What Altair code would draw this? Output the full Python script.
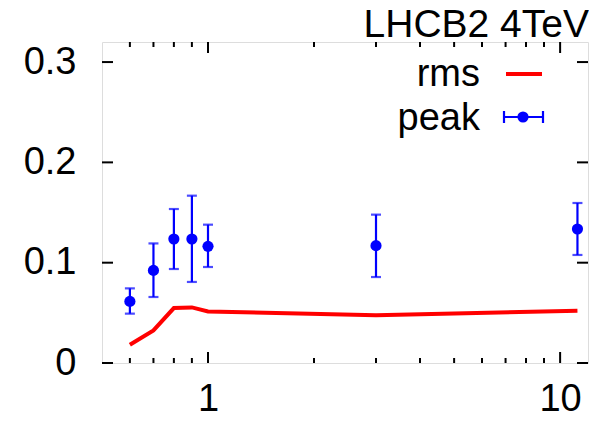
import altair as alt
import pandas as pd

# ---- data ----
peak_x = [0.6, 0.7, 0.8, 0.9, 1.0, 3.0, 11.2]
peak_y = [0.0614, 0.0923, 0.1236, 0.1236, 0.1163, 0.117, 0.1336]
peak_hi = [0.0744, 0.1192, 0.1535, 0.1668, 0.1379, 0.1479, 0.1595]
peak_lo = [0.0492, 0.0658, 0.0937, 0.0808, 0.0957, 0.0857, 0.1077]

rms_x = [0.6, 0.7, 0.8, 0.9, 1.0, 3.0, 11.2]
rms_y = [0.0182, 0.0325, 0.0548, 0.0554, 0.0514, 0.0475, 0.0521]

x_major = [1, 10]
x_minor = [0.6, 0.7, 0.8, 0.9, 2, 3, 4, 5, 6, 7, 8, 9]
y_major = [0.0, 0.1, 0.2, 0.3]

legend_labels = ["rms", "peak"]
title_text = "LHCB2 4TeV"

FONT = "Liberation Sans"
W, H = 486, 321
RED = "#ff0000"
BLUE = "#0000ff"

xscale = alt.Scale(type="log", domain=[0.5, 12], nice=False)
yscale = alt.Scale(domain=[0, 0.32], nice=False, zero=False)

peak = pd.DataFrame({"x": peak_x, "y": peak_y, "lo": peak_lo, "hi": peak_hi})
rms = pd.DataFrame({"x": rms_x, "y": rms_y})
one = pd.DataFrame({"d": [0]})

xaxis = alt.Axis(values=x_major, format="~g", labelFontSize=38, labelFont=FONT,
                 labelColor="black", tickSize=0, domain=False, grid=False,
                 labelPadding=17, title=None, labelFlush=False)
yaxis = alt.Axis(values=y_major, format="~g", labelFontSize=38, labelFont=FONT,
                 labelColor="black", tickSize=0, domain=False, grid=False,
                 labelPadding=26, title=None)

X = alt.X("x:Q", scale=xscale, axis=xaxis)
Y = alt.Y("y:Q", scale=yscale, axis=yaxis)

line = alt.Chart(rms).mark_line(color=RED, strokeWidth=4, clip=True).encode(x=X, y=Y)

bars = alt.Chart(peak).mark_rule(color=BLUE, strokeWidth=2.2).encode(
    x=alt.X("x:Q", scale=xscale), y=alt.Y("lo:Q", scale=yscale), y2="hi:Q")
cap_hi = alt.Chart(peak).mark_tick(color=BLUE, orient="horizontal", size=10, thickness=2.2).encode(
    x=alt.X("x:Q", scale=xscale), y=alt.Y("hi:Q", scale=yscale))
cap_lo = alt.Chart(peak).mark_tick(color=BLUE, orient="horizontal", size=10, thickness=2.2).encode(
    x=alt.X("x:Q", scale=xscale), y=alt.Y("lo:Q", scale=yscale))
pts = alt.Chart(peak).mark_point(color=BLUE, filled=True, shape="circle", size=125, opacity=1).encode(
    x=alt.X("x:Q", scale=xscale), y=alt.Y("y:Q", scale=yscale))

# inward tick marks on all four sides
xmaj = pd.DataFrame({"x": x_major})
xmin = pd.DataFrame({"x": x_minor})
ymaj = pd.DataFrame({"y": y_major})
tk = dict(color="black", strokeWidth=2)
ticks = [
    alt.Chart(xmaj).mark_rule(**tk).encode(x=alt.X("x:Q", scale=xscale), y=alt.value(H), y2=alt.value(H - 11)),
    alt.Chart(xmaj).mark_rule(**tk).encode(x=alt.X("x:Q", scale=xscale), y=alt.value(0), y2=alt.value(11)),
    alt.Chart(xmin).mark_rule(**tk).encode(x=alt.X("x:Q", scale=xscale), y=alt.value(H), y2=alt.value(H - 5)),
    alt.Chart(xmin).mark_rule(**tk).encode(x=alt.X("x:Q", scale=xscale), y=alt.value(0), y2=alt.value(5)),
    alt.Chart(ymaj).mark_rule(**tk).encode(y=alt.Y("y:Q", scale=yscale), x=alt.value(0), x2=alt.value(11)),
    alt.Chart(ymaj).mark_rule(**tk).encode(y=alt.Y("y:Q", scale=yscale), x=alt.value(W), x2=alt.value(W - 11)),
]

# title (top right, above the frame)
title = alt.Chart(one).mark_text(font=FONT, fontSize=39, align="right", baseline="alphabetic",
                                 color="black").encode(
    x=alt.value(W + 1), y=alt.value(-5), text=alt.value(title_text))

# manual gnuplot-style key
txt = dict(font=FONT, fontSize=38, align="right", baseline="alphabetic", color="black")
legend = [
    alt.Chart(one).mark_text(**txt).encode(x=alt.value(378), y=alt.value(44), text=alt.value(legend_labels[0])),
    alt.Chart(one).mark_text(**txt).encode(x=alt.value(378), y=alt.value(88), text=alt.value(legend_labels[1])),
    alt.Chart(one).mark_rule(color=RED, strokeWidth=4).encode(x=alt.value(404), x2=alt.value(440), y=alt.value(32)),
    alt.Chart(one).mark_rule(color=BLUE, strokeWidth=2.2).encode(x=alt.value(402), x2=alt.value(441), y=alt.value(75)),
    alt.Chart(one).mark_rule(color=BLUE, strokeWidth=2.2).encode(x=alt.value(402), y=alt.value(69), y2=alt.value(81)),
    alt.Chart(one).mark_rule(color=BLUE, strokeWidth=2.2).encode(x=alt.value(441), y=alt.value(69), y2=alt.value(81)),
    alt.Chart(one).mark_point(color=BLUE, filled=True, shape="circle", size=125, opacity=1).encode(
        x=alt.value(421), y=alt.value(75)),
]

chart = alt.layer(line, bars, cap_hi, cap_lo, pts, *ticks, title, *legend).properties(
    width=W, height=H,
    autosize=alt.AutoSizeParams(type="none"),
    padding={"left": 94, "top": 34, "right": 1, "bottom": 52},
).configure_view(stroke="black", strokeWidth=2).configure(background="white")

chart.save("out.html", embed_options={"renderer": "svg", "actions": False})
